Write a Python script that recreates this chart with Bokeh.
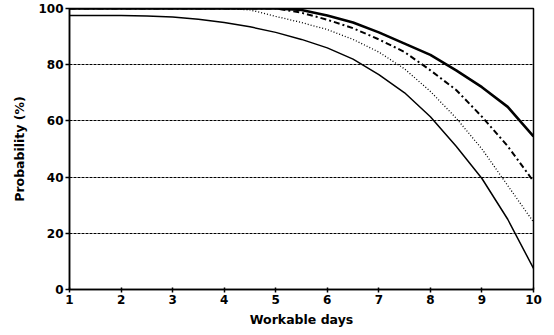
from bokeh.plotting import figure
from bokeh.models import Range1d, FixedTicker
from bokeh.embed import file_html
from bokeh.resources import INLINE

days = [1, 1.5, 2, 2.5, 3, 3.5, 4, 4.5, 5, 5.5, 6, 6.5, 7, 7.5, 8, 8.5, 9, 9.5, 10]

# lowest thin solid curve
prob_a = [97.5, 97.5, 97.5, 97.3, 97, 96.2, 95, 93.5, 91.5, 89, 86, 82, 76.5, 70, 61.5, 51, 39.5, 25, 7.5]
# dotted curve
prob_b = [100, 100, 100, 100, 100, 100, 100, 99.5, 97.2, 95, 92.5, 89, 84.5, 78.5, 70.5, 61, 50, 37, 24]
# dash-dot curve
prob_c = [100, 100, 100, 100, 100, 100, 100, 100, 100, 98.5, 96, 93, 89, 84.5, 78, 71, 61.5, 51, 38.5]
# thick solid curve
prob_d = [100, 100, 100, 100, 100, 100, 100, 100, 100, 99.5, 97.5, 95, 91.5, 87.5, 83.5, 78, 72, 65, 54.5]

x_ticks = [1, 2, 3, 4, 5, 6, 7, 8, 9, 10]
y_ticks = [0, 20, 40, 60, 80, 100]
grid_levels = [20, 40, 60, 80]

p = figure(width=554, height=335, output_backend="svg", toolbar_location=None,
           x_range=Range1d(1, 10), y_range=Range1d(0, 100))
p.min_border_left = 69
p.min_border_right = 21
p.min_border_top = 8
p.min_border_bottom = 46

p.outline_line_color = "black"
p.outline_line_width = 1.5
p.background_fill_color = "white"
p.border_fill_color = "white"

p.xgrid.visible = False
p.ygrid.ticker = FixedTicker(ticks=grid_levels)
p.ygrid.grid_line_color = "black"
p.ygrid.grid_line_dash = "3 1"
p.ygrid.grid_line_width = 1

p.xaxis.ticker = FixedTicker(ticks=x_ticks)
p.yaxis.ticker = FixedTicker(ticks=y_ticks)

for ax in (p.xaxis[0], p.yaxis[0]):
    ax.axis_line_color = "black"
    ax.axis_line_width = 1.5
    ax.major_tick_line_color = "black"
    ax.major_tick_line_width = 1.5
    ax.minor_tick_line_color = None
    ax.major_label_text_font = "DejaVu Sans"
    ax.major_label_text_font_style = "bold"
    ax.major_label_text_font_size = "12px"
    ax.major_label_text_color = "black"
    ax.axis_label_text_font = "DejaVu Sans"
    ax.axis_label_text_font_style = "bold"
    ax.axis_label_text_font_size = "12.5px"
    ax.axis_label_text_color = "black"

p.xaxis.axis_label = "Workable days"
p.yaxis.axis_label = "Probability (%)"
p.xaxis.major_tick_in = 2
p.xaxis.major_tick_out = 3
p.yaxis.major_tick_in = 0
p.yaxis.major_tick_out = 4
p.xaxis.major_label_standoff = 2
p.yaxis.major_label_standoff = 2
p.xaxis.axis_label_standoff = 5
p.yaxis.axis_label_standoff = 8

p.line(days, prob_a, line_color="black", line_width=1.5)
p.line(days, prob_b, line_color="black", line_width=1.3, line_dash="1 2")
p.line(days, prob_c, line_color="black", line_width=2, line_dash="6 3 2 3")
p.line(days, prob_d, line_color="black", line_width=2.6)

open("out.html", "w").write(file_html(p, INLINE))
